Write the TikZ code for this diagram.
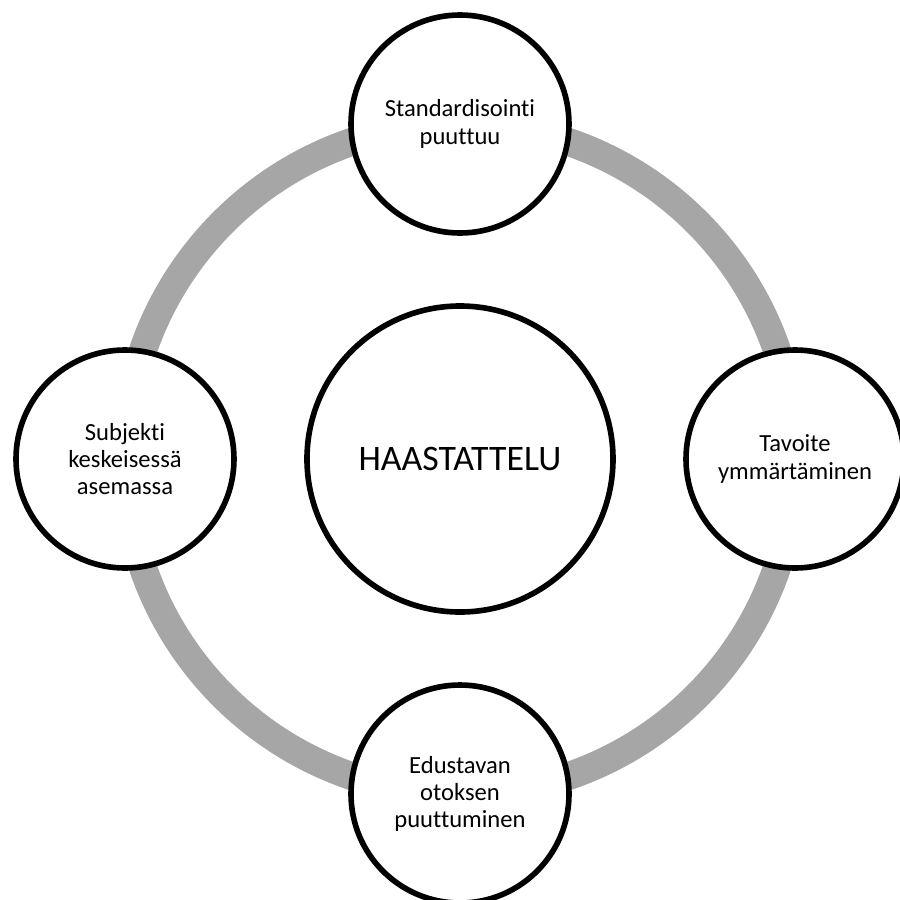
\documentclass[tikz,border=0pt]{standalone}
\usepackage{fontspec}
\setmainfont{Carlito}[Ligatures=NoCommon]
\usepackage{tikz}

\definecolor{ringgray}{RGB}{166,166,166}

\tikzset{
  topic/.style={circle,draw=black,line width=4pt,fill=white,minimum size=5.45cm,
    align=center,inner sep=0pt,font=\fontsize{17.5}{19.4}\selectfont},
  hubcircle/.style={topic,minimum size=7.65cm,font=\fontsize{25.5}{30}\selectfont}
}

\begin{document}
\begin{tikzpicture}[]

      % fix the page size
      \useasboundingbox (-11.5,-11.0) rectangle (11.0,11.475);

      % draw ring
      \coordinate (centre) at (0,0);
      \draw[ringgray,line width=0.7cm] (centre) circle (8.375cm);

      % draw centre node
      \node[hubcircle] (hub) at (centre) {HAASTATTELU};

      % draw nodes
      \node[topic] (standard) at (0,8.375) {Standardisointi\\puuttuu};
      \node[topic] (tavoite) at (8.375,0) {Tavoite\\ymmärtäminen};
      \node[topic] (edustava) at (0,-8.375) {Edustavan\\otoksen\\puuttuminen};
      \node[topic] (subjekti) at (-8.375,0) {Subjekti\\keskeisessä\\asemassa};

     \end{tikzpicture}
\end{document}
